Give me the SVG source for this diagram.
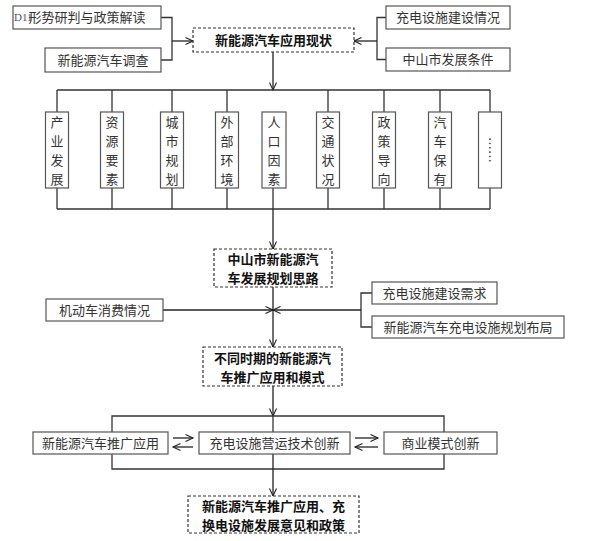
<svg xmlns="http://www.w3.org/2000/svg" width="600" height="541" viewBox="0 0 600 541">
<defs>
<marker id="ah" markerWidth="10" markerHeight="10" refX="8" refY="4" orient="auto" markerUnits="userSpaceOnUse">
<path d="M0.5,0.5 L8,4 L0.5,7.5" fill="none" stroke="#222" stroke-width="1.1"/>
</marker>
<style>
.bx{fill:#fff;stroke:#555;stroke-width:1.2}
.mb{fill:#fff;stroke:#333;stroke-width:1.2;stroke-dasharray:3 2}
.t{font-family:"Noto Sans CJK SC","Noto Sans",sans-serif;font-size:13px;fill:#333;text-anchor:middle}
.b{font-family:"Noto Sans CJK SC","Noto Sans",sans-serif;font-size:13px;font-weight:700;fill:#111;text-anchor:middle}
.v{font-family:"Noto Sans CJK SC","Noto Sans",sans-serif;font-size:13px;fill:#333;text-anchor:middle}
.ln{fill:none;stroke:#333;stroke-width:1.3}
.ar{fill:none;stroke:#222;stroke-width:1.3;marker-end:url(#ah)}
</style>
</defs>
<rect width="600" height="541" fill="#fff"/>

<g id="connectors">
<path class="ln" d="M161,17.5 H172 V60 H161"/>
<path class="ar" d="M172,41 H193"/>
<path class="ln" d="M386,17.5 H377 V59.5 H386"/>
<path class="ar" d="M377,41 H354"/>
<path class="ar" d="M273,52 V90"/>
<path class="ln" d="M57,90 H490 M57,209 H490"/>
<path class="ln" d="M57,90 V112 M112,90 V112 M172,90 V112 M227,90 V112 M328,90 V112 M384,90 V112 M440,90 V112 M490,90 V112"/>
<path class="ln" d="M57,188 V209 M112,188 V209 M172,188 V209 M227,188 V209 M273,188 V209 M328,188 V209 M384,188 V209 M440,188 V209 M490,188 V209"/>
<path class="ar" d="M273,209 V249"/>
<path class="ar" d="M273,287 V347"/>
<path class="ar" d="M163,310 H273"/>
<path class="ln" d="M372,293 H361 V327 H372"/>
<path class="ar" d="M361,310 H273"/>
<path class="ar" d="M273,386 V416"/>
<path class="ln" d="M112,416 H444 V469 H112 Z"/>
<path class="ln" d="M273,416 V432"/>
<path class="ar" d="M273,454 V496"/>
<path class="ar" d="M173,438 H193"/>
<path class="ar" d="M193,447 H173"/>
<path class="ar" d="M355,438 H378"/>
<path class="ar" d="M378,447 H355"/>
</g>

<g id="n1"><rect class="bx" x="13" y="6" width="148" height="23"/><text class="t" x="87" y="22">形势研判与政策解读</text><text x="14" y="21" font-family="Liberation Serif,serif" font-size="11" fill="#555">D11</text></g>
<g id="n2"><rect class="bx" x="45" y="48" width="116" height="24"/><text class="t" x="103" y="64.5">新能源汽车调查</text></g>
<g id="n3"><rect class="bx" x="386" y="6" width="124" height="23"/><text class="t" x="448" y="22">充电设施建设情况</text></g>
<g id="n4"><rect class="bx" x="386" y="48" width="124" height="23"/><text class="t" x="448" y="64">中山市发展条件</text></g>
<g id="main1"><rect class="mb" x="193" y="28" width="161" height="24"/><text class="b" x="273.5" y="45">新能源汽车应用现状</text></g>

<g id="f1"><rect class="bx" x="45.5" y="112" width="23" height="76"/><text class="v"><tspan x="57" y="126.5">产</tspan><tspan x="57" y="145.5">业</tspan><tspan x="57" y="164.5">发</tspan><tspan x="57" y="183.5">展</tspan></text></g>
<g id="f2"><rect class="bx" x="100.5" y="112" width="23" height="76"/><text class="v"><tspan x="112" y="126.5">资</tspan><tspan x="112" y="145.5">源</tspan><tspan x="112" y="164.5">要</tspan><tspan x="112" y="183.5">素</tspan></text></g>
<g id="f3"><rect class="bx" x="160.5" y="112" width="23" height="76"/><text class="v"><tspan x="172" y="126.5">城</tspan><tspan x="172" y="145.5">市</tspan><tspan x="172" y="164.5">规</tspan><tspan x="172" y="183.5">划</tspan></text></g>
<g id="f4"><rect class="bx" x="215.5" y="112" width="23" height="76"/><text class="v"><tspan x="227" y="126.5">外</tspan><tspan x="227" y="145.5">部</tspan><tspan x="227" y="164.5">环</tspan><tspan x="227" y="183.5">境</tspan></text></g>
<g id="f5"><rect class="bx" x="262" y="112" width="24" height="76"/><text class="v"><tspan x="274" y="126.5">人</tspan><tspan x="274" y="145.5">口</tspan><tspan x="274" y="164.5">因</tspan><tspan x="274" y="183.5">素</tspan></text></g>
<g id="f6"><rect class="bx" x="316.5" y="112" width="23" height="76"/><text class="v"><tspan x="328" y="126.5">交</tspan><tspan x="328" y="145.5">通</tspan><tspan x="328" y="164.5">状</tspan><tspan x="328" y="183.5">况</tspan></text></g>
<g id="f7"><rect class="bx" x="372.5" y="112" width="23" height="76"/><text class="v"><tspan x="384" y="126.5">政</tspan><tspan x="384" y="145.5">策</tspan><tspan x="384" y="164.5">导</tspan><tspan x="384" y="183.5">向</tspan></text></g>
<g id="f8"><rect class="bx" x="428.5" y="112" width="23" height="76"/><text class="v"><tspan x="440" y="126.5">汽</tspan><tspan x="440" y="145.5">车</tspan><tspan x="440" y="164.5">保</tspan><tspan x="440" y="183.5">有</tspan></text></g>
<g id="f9"><rect class="bx" x="478.5" y="112" width="23" height="76"/><text class="v" transform="translate(490,150) rotate(90)" x="0" y="5" font-size="20">……</text></g>

<g id="main2"><rect class="mb" x="214" y="249" width="118" height="38"/><text class="b"><tspan x="273" y="264">中山市新能源汽</tspan><tspan x="273" y="283">车发展规划思路</tspan></text></g>
<g id="n5"><rect class="bx" x="46" y="299" width="117" height="22"/><text class="t" x="104.5" y="314.5">机动车消费情况</text></g>
<g id="n6"><rect class="bx" x="372" y="282" width="125" height="22"/><text class="t" x="434.5" y="297.5">充电设施建设需求</text></g>
<g id="n7"><rect class="bx" x="372" y="316" width="192" height="22"/><text class="t" x="468" y="331.5">新能源汽车充电设施规划布局</text></g>
<g id="main3"><rect class="mb" x="203" y="347" width="139" height="39"/><text class="b"><tspan x="272.5" y="363">不同时期的新能源汽</tspan><tspan x="272.5" y="382">车推广应用和模式</tspan></text></g>

<g id="n8"><rect class="bx" x="33" y="432" width="135" height="22"/><text class="t" x="100.5" y="447.5">新能源汽车推广应用</text></g>
<g id="n9"><rect class="bx" x="199" y="432" width="151" height="22"/><text class="t" x="274.5" y="447.5">充电设施营运技术创新</text></g>
<g id="n10"><rect class="bx" x="384" y="432" width="113" height="22"/><text class="t" x="440.5" y="447.5">商业模式创新</text></g>
<g id="main4"><rect class="mb" x="188" y="496" width="171" height="37"/><text class="b"><tspan x="273.5" y="510.5">新能源汽车推广应用、充</tspan><tspan x="273.5" y="529.5">换电设施发展意见和政策</tspan></text></g>
</svg>
